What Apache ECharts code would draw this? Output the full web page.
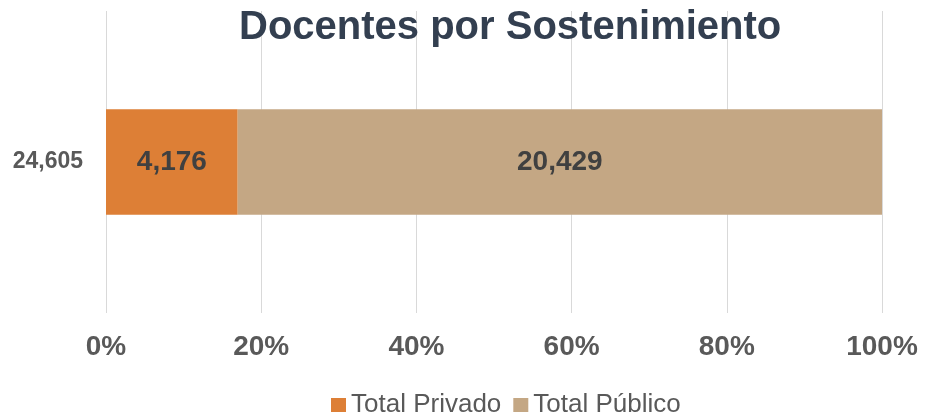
<!DOCTYPE html>
<html>
<head>
<meta charset="utf-8">
<script src="https://cdn.jsdelivr.net/npm/echarts@6/dist/echarts.min.js"></script>
<style>
  html, body { margin: 0; padding: 0; background: #fff; }
  #chart { width: 931px; height: 418px; }
</style>
</head>
<body>
<div id="chart"></div>
<script>
  // datos
  let categories = ['24,605'];
  let privado = [4176];
  let publico = [20429];
  let seriesNames = ['Total Privado', 'Total Público'];
  let colors = ['#DD7F36', '#C4A784'];

  let chart = echarts.init(document.getElementById('chart'));

  // se apila en porcentaje, la etiqueta muestra el valor real
  let toPct = function (arr, i) {
    let total = privado[i] + publico[i];
    return arr[i] / total * 100;
  };

  let fmt = function (n) {
    return n.toLocaleString('en-US');
  };

  let makeSeries = function (name, values, color) {
    return {
      name: name,
      type: 'bar',
      stack: 'total',
      barWidth: '35%',
      itemStyle: {color: color},
      label: {
        show: true,
        position: 'inside',
        color: '#404040',
        fontSize: 28,
        fontWeight: 'bold',
        fontFamily: 'Liberation Sans, Arial, sans-serif',
        formatter: function (p) {
          return fmt(values[p.dataIndex]);
        }
      },
      data: values.map(function (v, i) { return toPct(values, i); })
    };
  };

  let option = {
    backgroundColor: '#ffffff',
    animation: false,
    title: {
      text: 'Docentes por Sostenimiento',
      left: 234,
      top: 3,
      textStyle: {
        color: '#333F50',
        fontSize: 40,
        fontWeight: 'bold',
        fontFamily: 'Liberation Sans, Arial, sans-serif'
      }
    },
    legend: {
      top: 387,
      left: 326,
      itemWidth: 15,
      itemHeight: 14,
      itemGap: 12,
      icon: 'rect',
      textStyle: {
        color: '#595959',
        fontSize: 26,
        fontFamily: 'Liberation Sans, Arial, sans-serif'
      },
      data: seriesNames
    },
    grid: {
      left: 106,
      right: 49,
      top: 11,
      bottom: 105,
      containLabel: false
    },
    xAxis: {
      type: 'value',
      min: 0,
      max: 100,
      interval: 20,
      axisLine: {show: false},
      axisTick: {show: false},
      splitLine: {lineStyle: {color: '#D9D9D9', width: 1}},
      axisLabel: {
        margin: 20,
        color: '#595959',
        fontSize: 28,
        fontWeight: 'bold',
        fontFamily: 'Liberation Sans, Arial, sans-serif',
        formatter: '{value}%'
      }
    },
    yAxis: {
      type: 'category',
      data: categories,
      axisLine: {show: false},
      axisTick: {show: false},
      axisLabel: {
        margin: 23,
        color: '#595959',
        fontSize: 23,
        fontWeight: 'bold',
        fontFamily: 'Liberation Sans, Arial, sans-serif'
      }
    },
    series: [
      makeSeries(seriesNames[0], privado, colors[0]),
      makeSeries(seriesNames[1], publico, colors[1])
    ]
  };

  chart.setOption(option);
</script>
</body>
</html>
